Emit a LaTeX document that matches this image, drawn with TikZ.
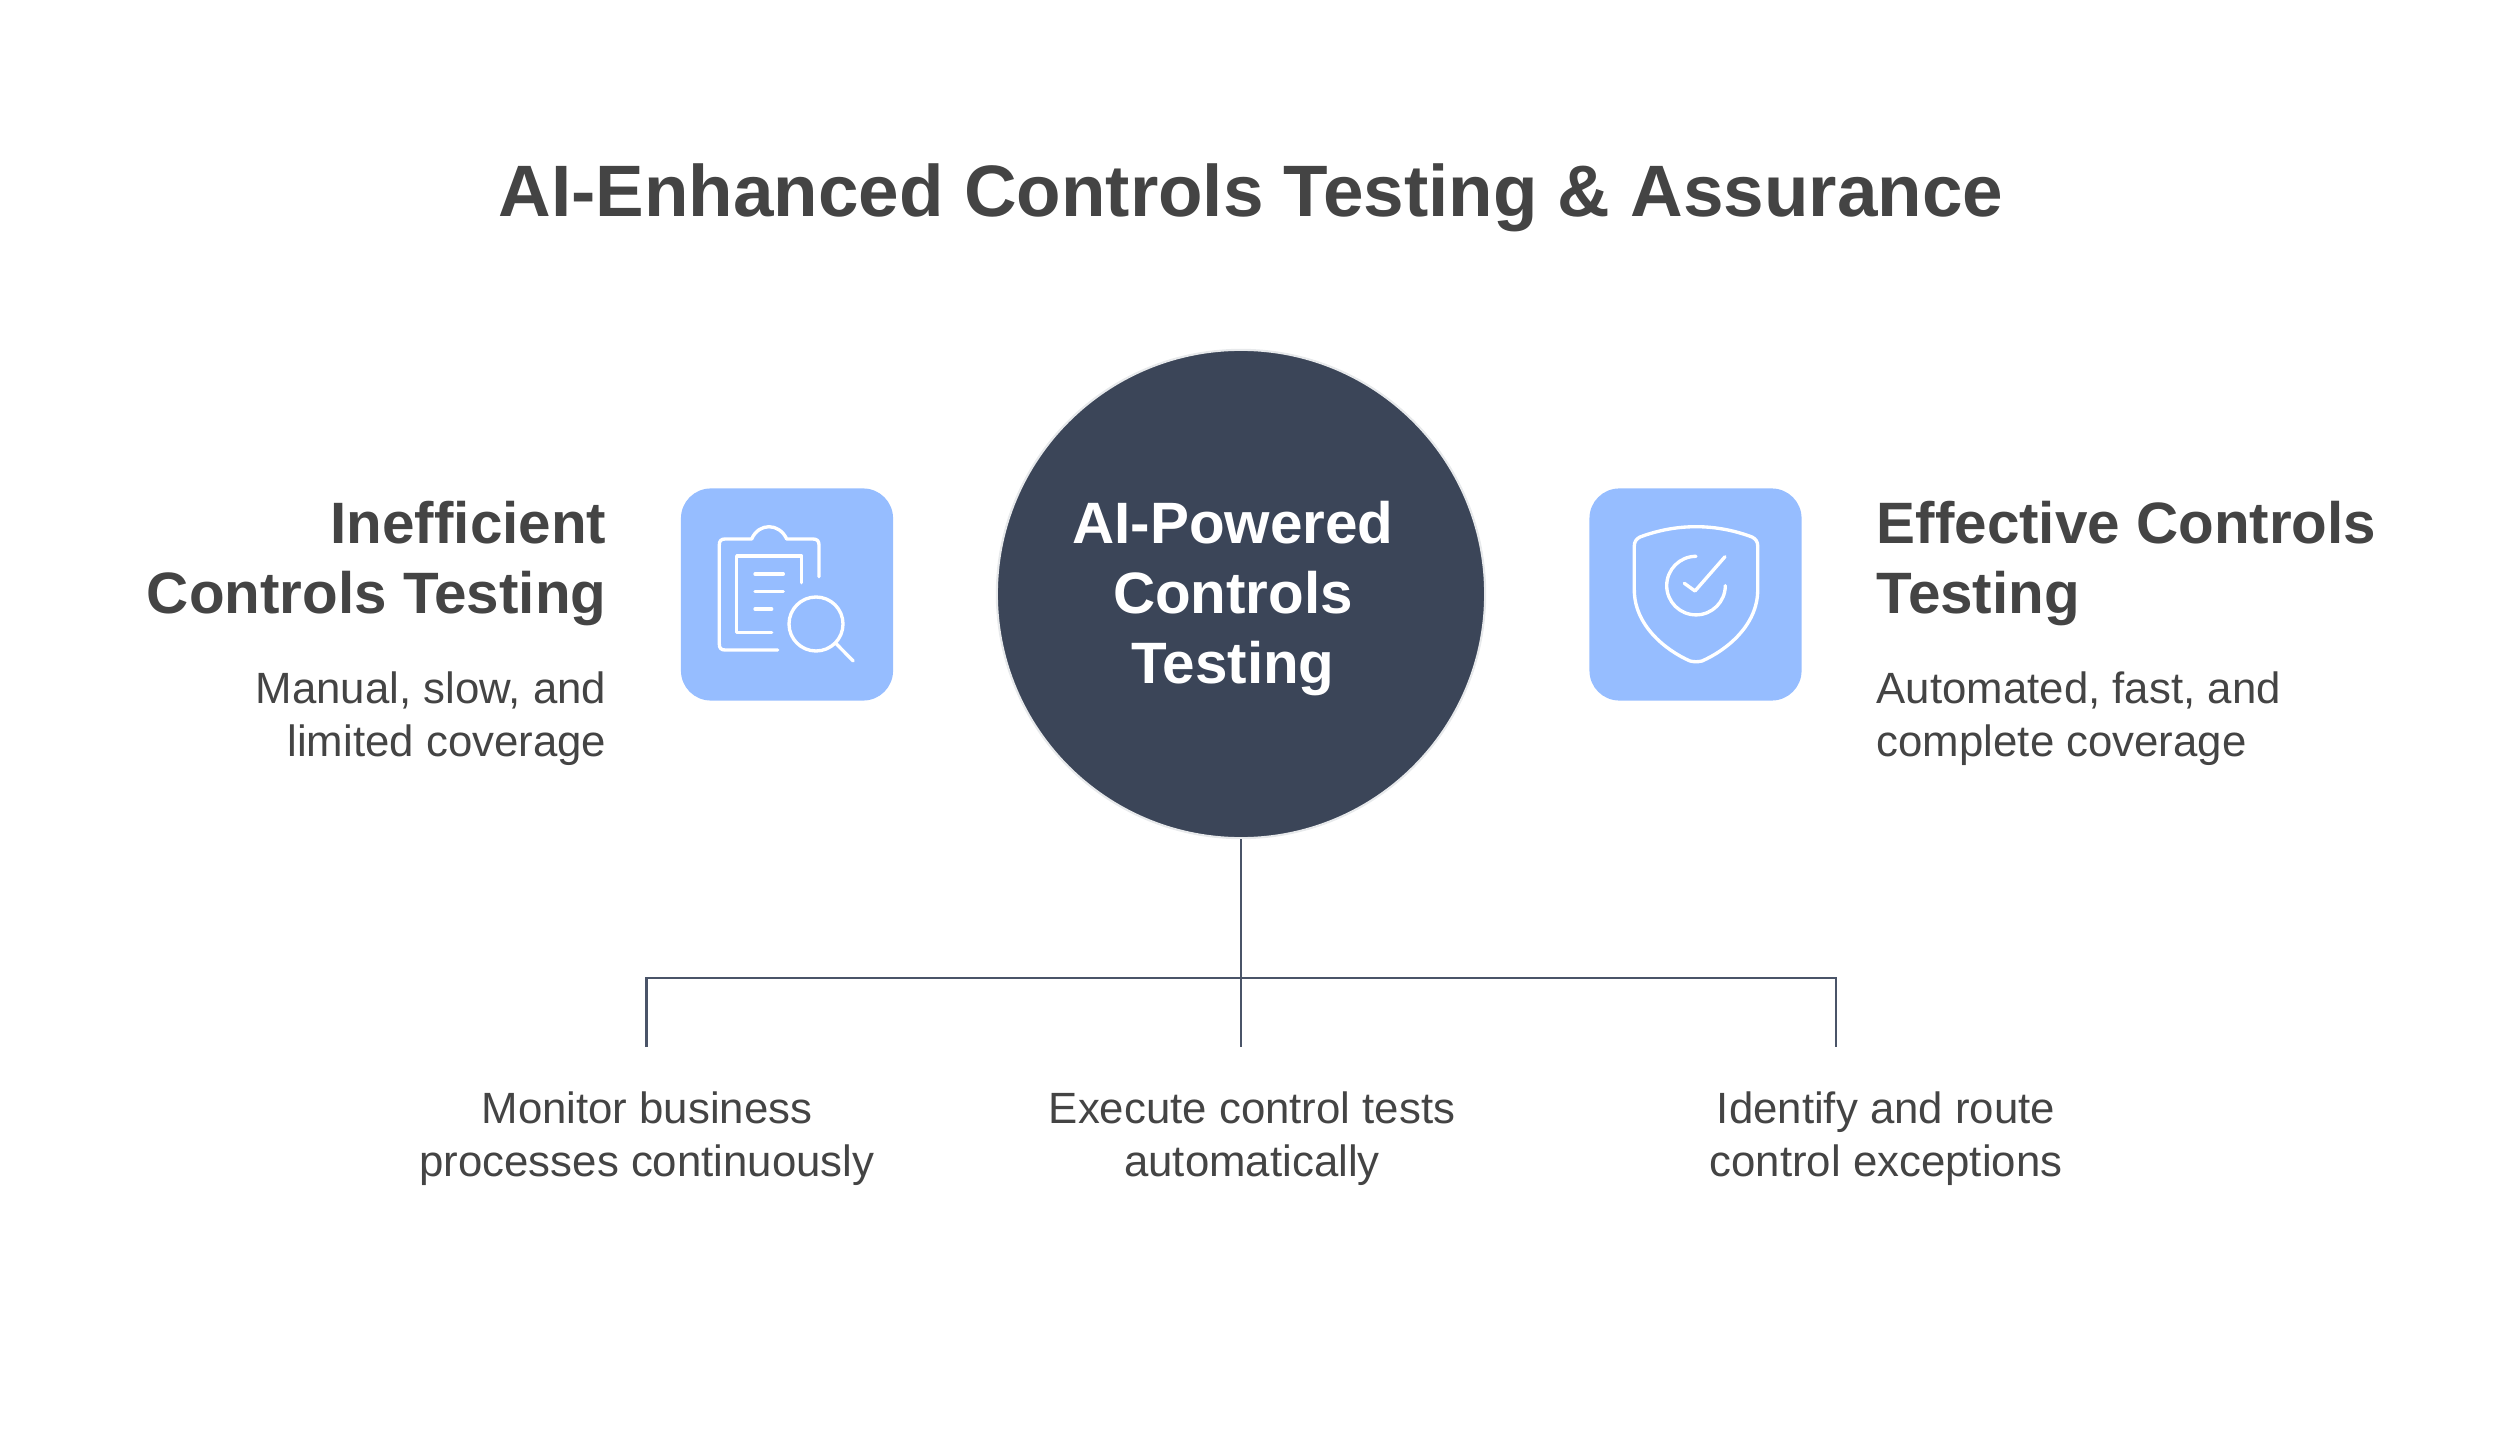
\documentclass[tikz,border=0pt]{standalone}
\usepackage{fontspec}
\setmainfont{Liberation Sans}
\definecolor{inkgray}{HTML}{444444}
\definecolor{hubnavy}{HTML}{3B4558}
\definecolor{tilesky}{HTML}{96BDFF}
\definecolor{wirenavy}{HTML}{4A5468}
\begin{document}
\begin{tikzpicture}[x=0.01cm, y=-0.01cm,
    % Styles
    headline/.style={
        font=\fontsize{20.72}{25}\selectfont\bfseries, text=inkgray, inner sep=0pt
    },
    sidehead/.style={
        font=\fontsize{16.6}{19.9}\selectfont\bfseries, text=inkgray, inner sep=0pt, align=#1
    },
    sidenote/.style={
        font=\fontsize{12.45}{15}\selectfont, text=inkgray, inner sep=0pt, align=#1
    },
    hub/.style={
        circle, draw=hubnavy!12, line width=0.6pt, fill=hubnavy,
        minimum size=4.88cm, inner sep=0pt
    },
    tile/.style={
        draw=none, fill=tilesky, rounded corners=8.5pt,
        minimum size=2.12cm, inner sep=0pt
    },
    glyph/.style={
        draw=white, line width=0.95pt, line cap=round, line join=round
    },
    conn/.style={
        draw=wirenavy, line width=0.8pt
    }
]
\useasboundingbox (0,0) rectangle (2500,1434);

% =============================================
% TITLE
% =============================================
\node[headline] (title) at (1251, 198) {AI-Enhanced Controls Testing \& Assurance};

% =============================================
% CENTRE
% =============================================
\node[hub] (core) at (1241, 594) {};
\node[sidehead=center, text=white] (corelabel) at (1233, 599) {AI-Powered\\Controls\\Testing};

% =============================================
% LEFT SIDE
% =============================================
\node[tile] (tileleft) at (787, 594.5) {};
\node[sidehead=right, anchor=east] (headleft) at (607, 564) {Inefficient\\Controls Testing};
\node[sidenote=right, anchor=east] (noteleft) at (607, 719) {Manual, slow, and\\limited coverage};

% Clipboard
\draw[glyph] (777.7,650) -- (725,650) .. controls (721,650) and (719.3,648) .. (719.3,644)
    -- (719.3,545) .. controls (719.3,541) and (721,539) .. (725,539) -- (751.7,539)
    .. controls (755,531) and (762,526.7) .. (769,526.7)
    .. controls (776,526.7) and (783,531) .. (786.7,539) -- (813,539)
    .. controls (817,539) and (819,541) .. (819,545) -- (819,576.7);
\draw[glyph] (771.7,632.7) -- (736.7,632.7) -- (736.7,556) -- (801.7,556) -- (801.7,582.7);
\draw[glyph] (755,574) -- (783.3,574);
\draw[glyph] (755,591.7) -- (783.3,591.7);
\draw[glyph] (755,609) -- (771.7,609);
\draw[glyph] (816,624) circle [radius=27];
\draw[glyph] (835.7,643.3) -- (853.3,661);

% =============================================
% RIGHT SIDE
% =============================================
\node[tile] (tileright) at (1695.5, 594.5) {};
\node[sidehead=left, anchor=west] (headright) at (1876, 564) {Effective Controls\\Testing};
\node[sidenote=left, anchor=west] (noteright) at (1876, 719) {Automated, fast, and\\complete coverage};

% Shield
\draw[glyph] (1696,526.7) .. controls (1675,526.7) and (1656,531) .. (1640,537)
    .. controls (1636,539) and (1634.3,542) .. (1634.3,546) -- (1634.3,590)
    .. controls (1634.3,625) and (1665,650) .. (1690,661)
    .. controls (1694,662) and (1698,662) .. (1702,661)
    .. controls (1727,650) and (1757.7,625) .. (1757.7,590) -- (1757.7,546)
    .. controls (1757.7,542) and (1756,539) .. (1752,537)
    .. controls (1736,531) and (1717,526.7) .. (1696,526.7);
\draw[glyph] (1696,556.3) arc[start angle=-90, end angle=-360, radius=29.3];
\draw[glyph] (1684.3,583.3) -- (1695,591) -- (1725,556.7);

% =============================================
% LOWER BRANCHES
% =============================================
\coordinate (busleft)  at (646.5, 978);
\coordinate (busmid)   at (1241, 978);
\coordinate (busright) at (1836, 978);
\coordinate (legleft)  at (646.5, 1047);
\coordinate (legmid)   at (1241, 1047);
\coordinate (legright) at (1836, 1047);

\draw[conn] (core.south) -- (legmid);
\draw[conn] (legleft) -- (busleft) -- (busright) -- (legright);

\node[sidenote=center] (stepleft)  at (647, 1138.5)  {Monitor business\\processes continuously};
\node[sidenote=center] (stepmid)   at (1252, 1138.5) {Execute control tests\\automatically};
\node[sidenote=center] (stepright) at (1886, 1138.5) {Identify and route\\control exceptions};

\end{tikzpicture}
\end{document}
